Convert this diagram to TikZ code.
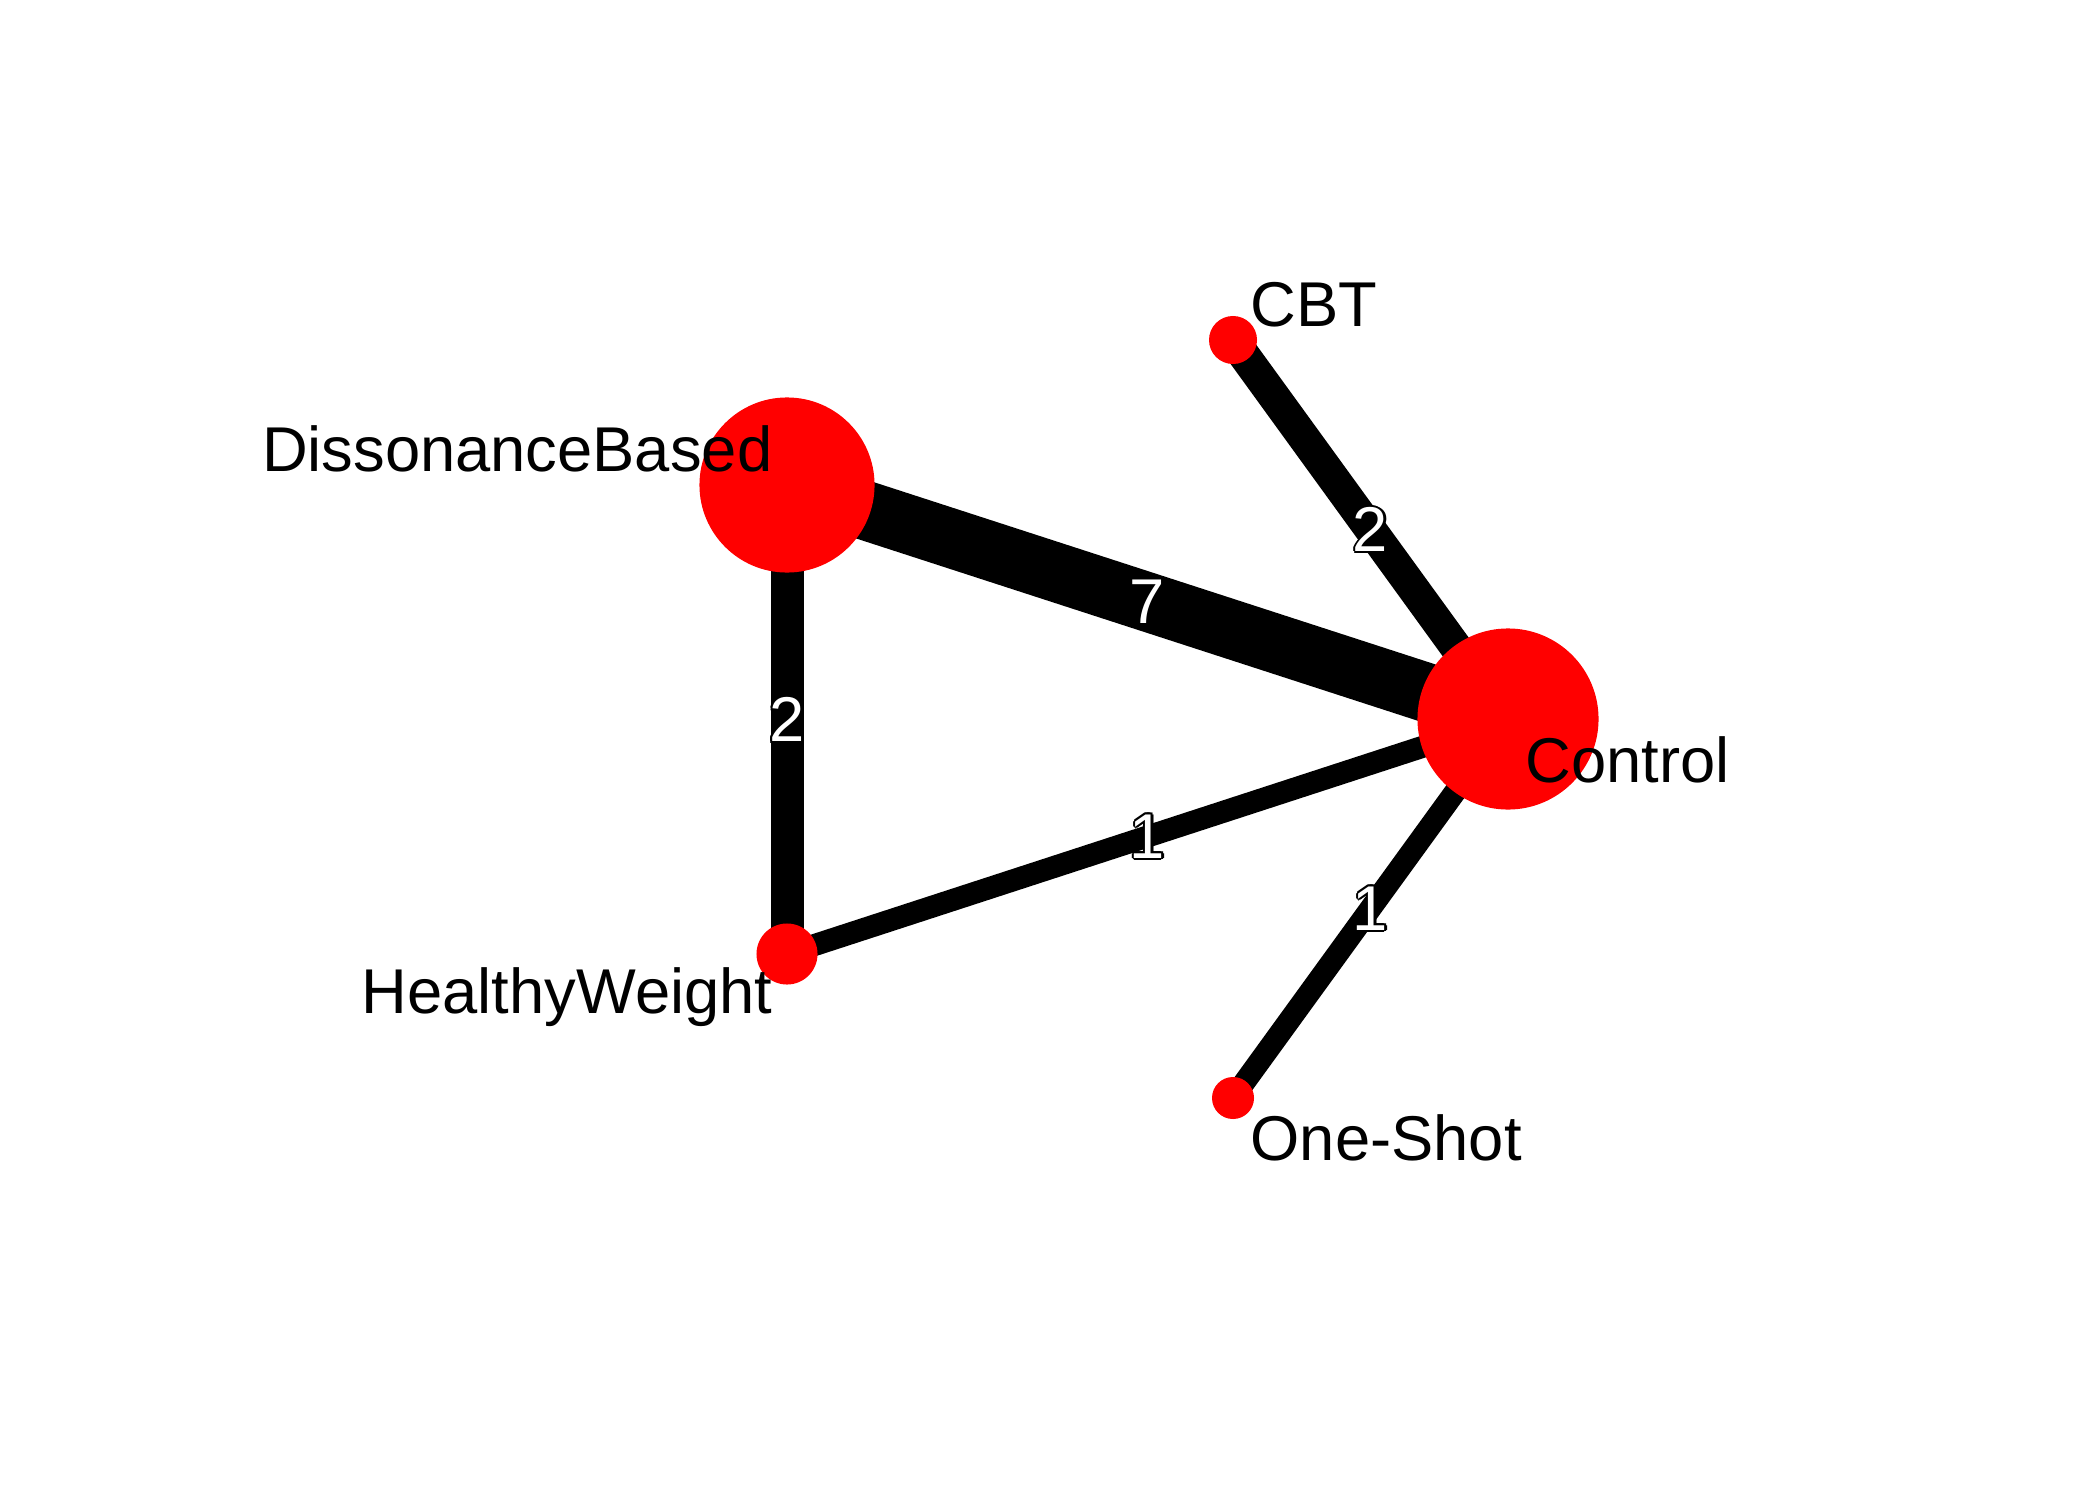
\documentclass[tikz,border=0pt]{standalone}
\usepackage{fontspec}
\setmainfont{Liberation Sans}
\pgfdeclarelayer{bg}
\pgfsetlayers{bg,main}
\newcommand{\olnum}[1]{\leavevmode
  \rlap{\hspace*{-0.6pt}\raisebox{0pt}{\textcolor{black}{#1}}}%
  \rlap{\hspace*{0.6pt}\raisebox{0pt}{\textcolor{black}{#1}}}%
  \rlap{\hspace*{0pt}\raisebox{0.6pt}{\textcolor{black}{#1}}}%
  \rlap{\hspace*{0pt}\raisebox{-0.6pt}{\textcolor{black}{#1}}}%
  \rlap{\hspace*{-0.45pt}\raisebox{0.45pt}{\textcolor{black}{#1}}}%
  \rlap{\hspace*{0.45pt}\raisebox{0.45pt}{\textcolor{black}{#1}}}%
  \rlap{\hspace*{-0.45pt}\raisebox{-0.45pt}{\textcolor{black}{#1}}}%
  \rlap{\hspace*{0.45pt}\raisebox{-0.45pt}{\textcolor{black}{#1}}}%
  \textcolor{white}{#1}}
\tikzset{
  trt/.style={circle, fill=red, draw=none, inner sep=0pt, minimum size=#1},
  lab/.style={font=\fontsize{18}{21}\selectfont, inner sep=0pt, text=black},
  num/.style={font=\fontsize{18}{21}\selectfont, inner sep=0pt},
  edgeline/.style={draw=black, line width=#1},
}
\begin{document}
\begin{tikzpicture}[x=0.01cm, y=-0.01cm]
\useasboundingbox (0,0) rectangle (2100,1500);
% treatment circles
\node[trt=1.75cm] (db) at (787,485) {};
\node[trt=1.81cm] (ctrl) at (1508,719) {};
\node[trt=0.48cm] (cbt) at (1233,340) {};
\node[trt=0.61cm] (hw) at (787,954) {};
\node[trt=0.42cm] (os) at (1233,1098) {};
% edges
\begin{pgfonlayer}{bg}
\fill[white] (0,0) rectangle (2100,1500);
\draw[edgeline=0.59cm] (db.center) -- (ctrl.center);
\draw[edgeline=0.33cm] (db.center) -- (hw.center);
\draw[edgeline=0.32cm] (cbt.center) -- (ctrl.center);
\draw[edgeline=0.22cm] (hw.center) -- (ctrl.center);
\draw[edgeline=0.22cm] (os.center) -- (ctrl.center);
\end{pgfonlayer}
% edge labels
\path (db.center) -- (ctrl.center) node[num, midway] (n7) {\olnum{7}};
\path (db.center) -- (hw.center) node[num, midway] (n2a) {\olnum{2}};
\path (cbt.center) -- (ctrl.center) node[num, midway] (n2b) {\olnum{2}};
\path (hw.center) -- (ctrl.center) node[num, midway] (n1a) {\olnum{1}};
\path (os.center) -- (ctrl.center) node[num, midway] (n1b) {\olnum{1}};
% treatment labels
\node[lab, anchor=base east] (ldb) at (773,471) {DissonanceBased};
\node[lab, anchor=base west] (lctrl) at (1525,782) {Control};
\node[lab, anchor=base west] (lcbt) at (1250,326) {CBT};
\node[lab, anchor=base east] (lhw) at (773,1013) {HealthyWeight};
\node[lab, anchor=base west] (los) at (1250,1160) {One-Shot};
\end{tikzpicture}
\end{document}
